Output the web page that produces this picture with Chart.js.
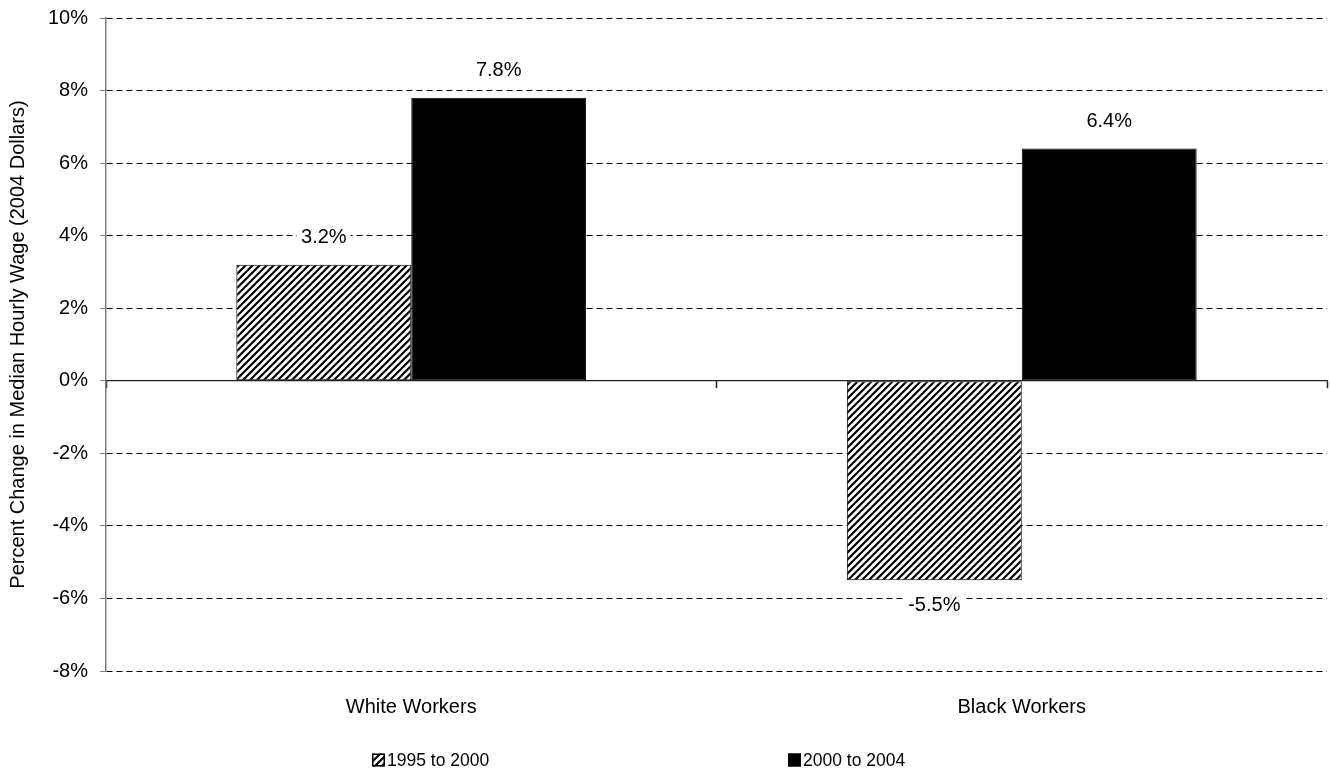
<!DOCTYPE html>
<html>
<head>
<meta charset="utf-8">
<script src="https://cdn.jsdelivr.net/npm/chart.js@4/dist/chart.umd.min.js"></script>
<style>
  html, body { margin: 0; padding: 0; background: #fff; }
  #wrap { width: 1330px; height: 776px; }
</style>
</head>
<body>
<div id="wrap"><canvas id="c" width="1330" height="776"></canvas></div>
<script>
// Median hourly wage change (2004 dollars), by group and period
const categories = ['White Workers', 'Black Workers'];
const seriesNames = ['1995 to 2000', '2000 to 2004'];
const change1995to2000 = [3.2, -5.5];
const change2000to2004 = [7.8, 6.4];
const yTickValues = [-8, -6, -4, -2, 0, 2, 4, 6, 8, 10];
const yAxisTitle = 'Percent Change in Median Hourly Wage (2004 Dollars)';

const FONT = "'Liberation Sans Narrow', 'Liberation Sans', Arial, sans-serif";
const FONT_SIZE = 20;
const LEGEND_FONT_SIZE = 17.5;

// diagonal hatch fill for the first period
function makeHatch() {
  const s = 7;
  const c = document.createElement('canvas');
  c.width = s; c.height = s;
  const g = c.getContext('2d');
  g.fillStyle = '#fff';
  g.fillRect(0, 0, s, s);
  g.strokeStyle = '#000';
  g.lineWidth = 2.2;
  g.beginPath();
  g.moveTo(-1, s + 1); g.lineTo(s + 1, -1);
  g.moveTo(-1, 1); g.lineTo(1, -1);
  g.moveTo(s - 1, s + 1); g.lineTo(s + 1, s - 1);
  g.stroke();
  return g.createPattern(c, 'repeat');
}
const hatch = makeHatch();

const fmtPct = v => v.toFixed(1) + '%';

// value labels over/under each bar, on a white patch
const valueLabels = {
  id: 'valueLabels',
  afterDatasetsDraw(chart) {
    const ctx = chart.ctx;
    ctx.save();
    ctx.font = FONT_SIZE + 'px ' + FONT;
    ctx.textAlign = 'center';
    ctx.textBaseline = 'middle';
    chart.data.datasets.forEach((ds, di) => {
      chart.getDatasetMeta(di).data.forEach((bar, i) => {
        const v = ds.data[i];
        const txt = fmtPct(v);
        const y = v >= 0 ? bar.y - 27 : bar.y + 25;
        const w = ctx.measureText(txt).width;
        ctx.fillStyle = '#fff';
        ctx.fillRect(bar.x - w / 2 - 4, y - 10, w + 8, 20);
        ctx.fillStyle = '#000';
        ctx.fillText(txt, bar.x, y);
      });
    });
    ctx.restore();
  }
};

// legend row under the category labels
const legendRow = {
  id: 'legendRow',
  afterDraw(chart) {
    const ctx = chart.ctx;
    const starts = [372, 788];
    const yMid = 760;
    const box = 13;
    ctx.save();
    ctx.font = LEGEND_FONT_SIZE + 'px ' + FONT;
    ctx.textAlign = 'left';
    ctx.textBaseline = 'middle';
    chart.data.datasets.forEach((ds, i) => {
      const x = starts[i];
      ctx.fillStyle = ds.backgroundColor;
      ctx.fillRect(x, yMid - box / 2, box, box);
      ctx.strokeStyle = '#000';
      ctx.lineWidth = 1.5;
      ctx.strokeRect(x + 0.75, yMid - box / 2 + 0.75, box - 1.5, box - 1.5);
      ctx.fillStyle = '#000';
      ctx.fillText(ds.label, x + box + 2, yMid + 1);
    });
    ctx.restore();
  }
};

new Chart(document.getElementById('c'), {
  type: 'bar',
  data: {
    labels: categories,
    datasets: [
      {
        label: seriesNames[0],
        data: change1995to2000,
        backgroundColor: hatch,
        borderColor: '#000',
        borderWidth: 1,
        borderSkipped: false
      },
      {
        label: seriesNames[1],
        data: change2000to2004,
        backgroundColor: '#000',
        borderColor: '#000',
        borderWidth: 1,
        borderSkipped: false
      }
    ]
  },
  options: {
    responsive: false,
    animation: false,
    devicePixelRatio: 1,
    layout: { padding: { top: 18, right: 3, bottom: 0, left: 0 } },
    datasets: { bar: { categoryPercentage: 0.573, barPercentage: 1.0 } },
    plugins: {
      legend: { display: false },
      tooltip: { enabled: false }
    },
    scales: {
      x: {
        position: 'bottom',
        grid: { display: false, drawTicks: false },
        border: { display: false },
        ticks: {
          color: '#000',
          padding: 24,
          font: { family: FONT, size: FONT_SIZE }
        },
        afterFit(scale) { scale.height = 105; }
      },
      // zero baseline with boundary ticks between categories
      xZero: {
        type: 'category',
        position: { y: 0 },
        offset: true,
        grid: {
          display: true,
          offset: true,
          drawOnChartArea: false,
          drawTicks: true,
          tickLength: 7,
          tickColor: '#222',
          tickWidth: 1.5
        },
        border: { display: true, color: '#222', width: 1.2 },
        ticks: { display: false },
        afterFit(scale) { scale.height = 0; }
      },
      y: {
        min: -8,
        max: 10,
        afterBuildTicks(scale) {
          scale.ticks = yTickValues.map(v => ({ value: v }));
        },
        ticks: {
          color: '#000',
          padding: 12,
          font: { family: FONT, size: FONT_SIZE },
          callback: v => v + '%'
        },
        grid: {
          color: ctx => (ctx.tick && ctx.tick.value === 0) ? 'rgba(0,0,0,0)' : '#000',
          lineWidth: 1,
          tickLength: 6,
          tickColor: '#808080',
          tickWidth: 1,
          tickBorderDash: []
        },
        border: { display: true, color: '#808080', width: 1.5, dash: [6, 4] },
        title: {
          display: true,
          text: yAxisTitle,
          color: '#000',
          font: { family: FONT, size: 20 },
          padding: { top: 6, bottom: 0 }
        },
        afterFit(scale) {
          scale.width = 106;
          scale.paddingTop = 0;
          scale.paddingBottom = 0;
        }
      }
    }
  },
  plugins: [valueLabels, legendRow]
});
</script>
</body>
</html>
